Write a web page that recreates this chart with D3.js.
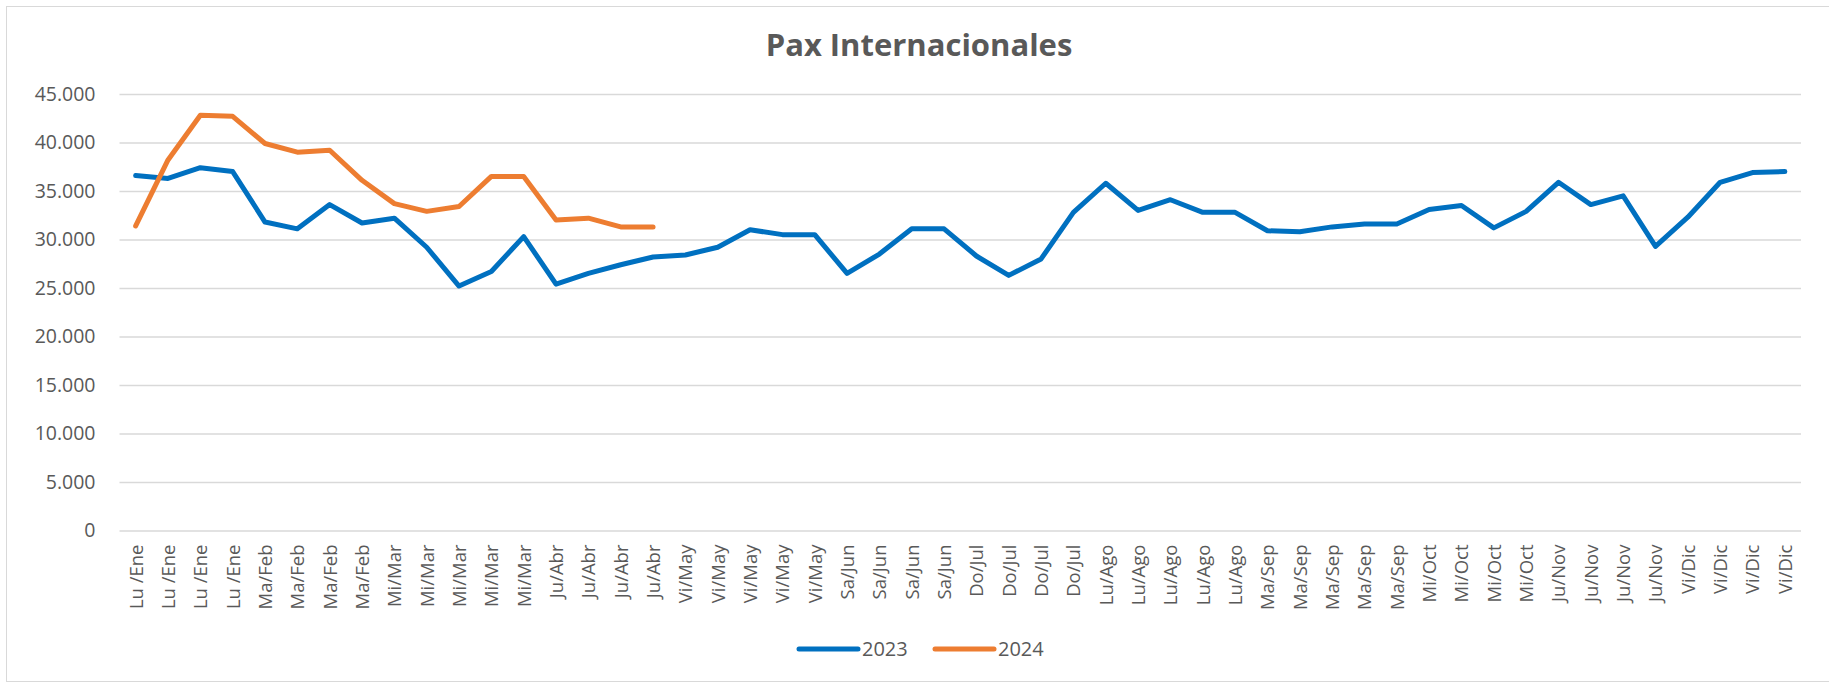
<!DOCTYPE html>
<html>
<head>
<meta charset="utf-8">
<script src="https://cdn.jsdelivr.net/npm/d3@7"></script>
<style>
  html, body { margin: 0; padding: 0; background: #fff; }
  #chart { width: 1829px; height: 683px; }
  text { font-family: "Open Sans", "Noto Sans", sans-serif; fill: #595959; }
</style>
</head>
<body>
<div id="chart"></div>
<script>
"use strict";

// week labels, one per week of the year
const weekLabels = [
  "Lu /Ene", "Lu /Ene", "Lu /Ene", "Lu /Ene",
  "Ma/Feb", "Ma/Feb", "Ma/Feb", "Ma/Feb",
  "Mi/Mar", "Mi/Mar", "Mi/Mar", "Mi/Mar", "Mi/Mar",
  "Ju/Abr", "Ju/Abr", "Ju/Abr", "Ju/Abr",
  "Vi/May", "Vi/May", "Vi/May", "Vi/May", "Vi/May",
  "Sa/Jun", "Sa/Jun", "Sa/Jun", "Sa/Jun",
  "Do/Jul", "Do/Jul", "Do/Jul", "Do/Jul",
  "Lu/Ago", "Lu/Ago", "Lu/Ago", "Lu/Ago", "Lu/Ago",
  "Ma/Sep", "Ma/Sep", "Ma/Sep", "Ma/Sep", "Ma/Sep",
  "Mi/Oct", "Mi/Oct", "Mi/Oct", "Mi/Oct",
  "Ju/Nov", "Ju/Nov", "Ju/Nov", "Ju/Nov",
  "Vi/Dic", "Vi/Dic", "Vi/Dic", "Vi/Dic"
];

const pax2023 = [
  36600, 36300, 37400, 37000, 31800, 31100, 33600, 31700, 32200, 29200,
  25200, 26700, 30300, 25400, 26500, 27400, 28200, 28400, 29200, 31000,
  30500, 30500, 26500, 28500, 31100, 31100, 28300, 26300, 28000, 32800,
  35800, 33000, 34100, 32800, 32800, 30900, 30800, 31300, 31600, 31600,
  33100, 33500, 31200, 32900, 35900, 33600, 34500, 29300, 32300, 35900,
  36900, 37000
];

const pax2024 = [
  31400, 38200, 42800, 42700, 39900, 39000, 39200, 36100, 33700, 32900,
  33400, 36500, 36500, 32000, 32200, 31300, 31300
];

const yTicks = [0, 5000, 10000, 15000, 20000, 25000, 30000, 35000, 40000, 45000];

const seriesNames = ["2023", "2024"];
const seriesColors = ["#0070C0", "#ED7D31"];

window.addEventListener("load", function () {
  draw();
});

function formatThousands(v) {
  // Spanish style: dot as thousands separator
  return d3.format(",")(v).replace(/,/g, ".");
}

function draw() {
  const w = 1829;
  const h = 683;
  const left = 119.5;
  const right = 1801;
  const top = 94;
  const bottom = 530.5;

  const svg = d3.select("#chart")
    .append("svg")
    .attr("width", w)
    .attr("height", h);

  // chart border
  svg.append("rect")
    .attr("x", 6.5)
    .attr("y", 6.5)
    .attr("width", w)
    .attr("height", 675)
    .attr("fill", "none")
    .attr("stroke", "#d9d9d9")
    .attr("stroke-width", 1);

  const xScale = d3.scalePoint()
    .domain(d3.range(weekLabels.length))
    .range([left, right])
    .padding(0.5);

  const yScale = d3.scaleLinear()
    .domain([0, 45000])
    .range([bottom, top]);

  // gridlines + y labels
  const yAxis = svg.append("g")
    .attr("transform", `translate(${left}, 0)`)
    .call(d3.axisLeft(yScale)
      .tickValues(yTicks)
      .tickFormat(formatThousands)
      .tickSize(-(right - left))
      .tickPadding(24));
  yAxis.select(".domain").remove();
  yAxis.selectAll(".tick line")
    .attr("stroke", "#d9d9d9")
    .attr("stroke-width", 1.3);
  yAxis.selectAll(".tick text")
    .style("font-size", "19.5px")
    .attr("fill", "#595959");

  // x labels, rotated
  const xAxis = svg.append("g")
    .attr("transform", `translate(0, ${bottom})`)
    .call(d3.axisBottom(xScale)
      .tickFormat(i => weekLabels[i])
      .tickSize(0));
  xAxis.select(".domain").remove();
  xAxis.selectAll(".tick text")
    .style("font-size", "18.5px")
    .attr("fill", "#595959")
    .attr("text-anchor", "end")
    .attr("transform", "rotate(-90)")
    .attr("x", -14)
    .attr("y", 0)
    .attr("dy", "0.35em");

  const line = d3.line()
    .x((d, i) => xScale(i))
    .y(d => yScale(d));

  [pax2023, pax2024].forEach((values, k) => {
    svg.append("path")
      .datum(values)
      .attr("d", line)
      .attr("fill", "none")
      .attr("stroke", seriesColors[k])
      .attr("stroke-width", 5)
      .attr("stroke-linejoin", "round")
      .attr("stroke-linecap", "round");
  });

  // title
  svg.append("text")
    .attr("x", 919)
    .attr("y", 56)
    .attr("text-anchor", "middle")
    .style("font-size", "31px")
    .style("font-weight", "bold")
    .text("Pax Internacionales");

  // legend
  const legendX = [799, 935];
  const legend = svg.append("g")
    .selectAll("g")
    .data(seriesNames)
    .enter()
    .append("g")
    .attr("transform", (d, k) => `translate(${legendX[k]}, 649)`);

  legend.append("line")
    .attr("x1", 0)
    .attr("x2", 59)
    .attr("stroke", (d, k) => seriesColors[k])
    .attr("stroke-width", 5)
    .attr("stroke-linecap", "round");

  legend.append("text")
    .attr("x", 63)
    .attr("y", 7)
    .style("font-size", "20px")
    .text(d => d);
}
</script>
</body>
</html>
